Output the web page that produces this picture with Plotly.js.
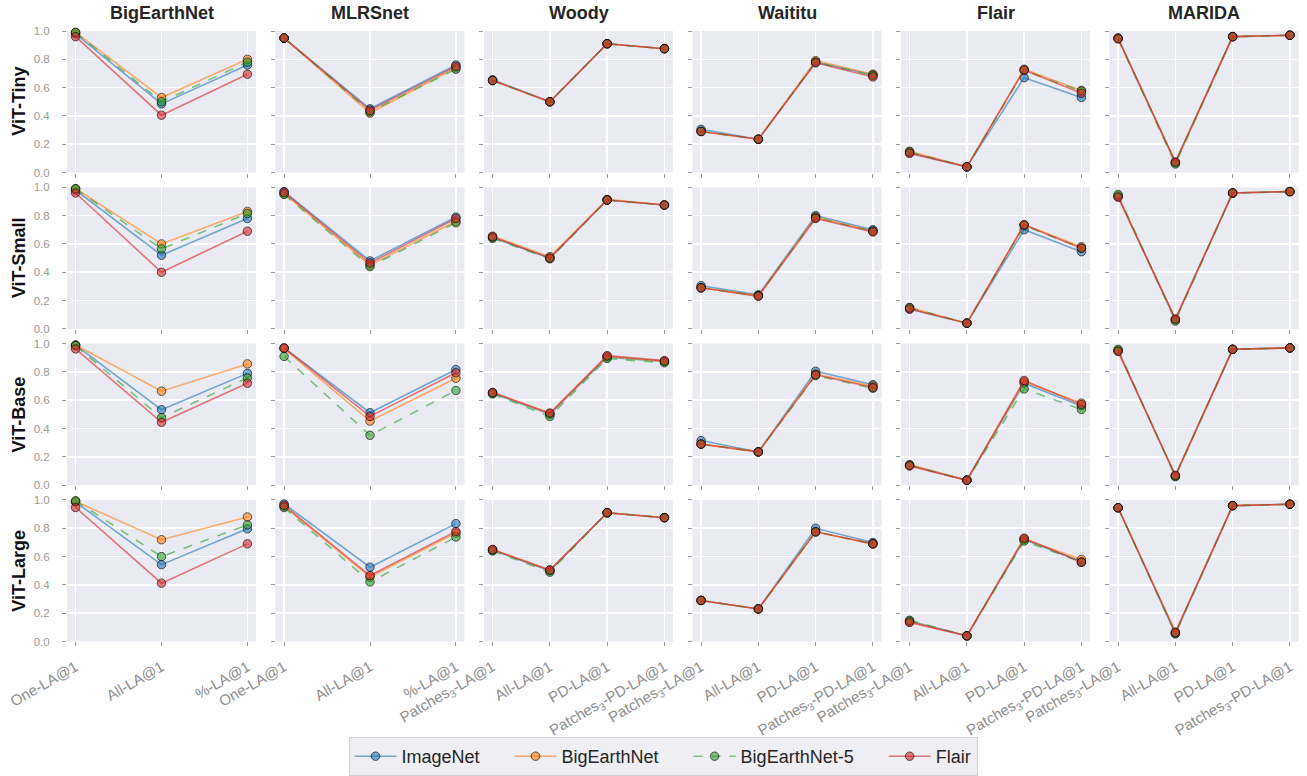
<!DOCTYPE html>
<html><head><meta charset="utf-8">
<script src="https://cdn.plot.ly/plotly-3.0.1.min.js"></script>
<style>html,body{margin:0;padding:0;background:#fff}#chart{width:1307px;height:776px}</style>
</head><body><div id="chart"></div>
<script>
// ---------- data ----------
const datasets = ['BigEarthNet','MLRSnet','Woody','Waititu','Flair','MARIDA'];
const models = ['ViT-Tiny','ViT-Small','ViT-Base','ViT-Large'];
const seriesNames = ['ImageNet','BigEarthNet','BigEarthNet-5','Flair'];
const labels3 = ['One-LA@1','All-LA@1','%-LA@1'];
const labels4 = ['Patches<sub>3</sub>-LA@1','All-LA@1','PD-LA@1','Patches<sub>3</sub>-PD-LA@1'];

// each array: one list per dataset (BigEarthNet, MLRSnet, Woody, Waititu, Flair, MARIDA)
const tiny_imagenet    = [[0.98,0.485,0.76],[0.95,0.45,0.76],[0.655,0.50,0.91,0.875],[0.305,0.235,0.78,0.69],[0.14,0.04,0.67,0.53],[0.95,0.07,0.96,0.97]];
const tiny_bigearthnet = [[0.99,0.53,0.80],[0.95,0.42,0.74],[0.65,0.50,0.91,0.875],[0.29,0.235,0.79,0.695],[0.15,0.04,0.73,0.58],[0.95,0.07,0.96,0.97]];
const tiny_ben5        = [[0.99,0.50,0.78],[0.95,0.43,0.73],[0.65,0.50,0.91,0.875],[0.29,0.235,0.78,0.685],[0.145,0.04,0.72,0.575],[0.945,0.06,0.96,0.97]];
const tiny_flair       = [[0.96,0.405,0.695],[0.95,0.44,0.75],[0.65,0.50,0.91,0.875],[0.29,0.235,0.775,0.675],[0.135,0.04,0.725,0.56],[0.945,0.075,0.96,0.97]];

const small_imagenet    = [[0.98,0.52,0.78],[0.97,0.48,0.79],[0.645,0.50,0.91,0.875],[0.305,0.24,0.80,0.70],[0.14,0.04,0.70,0.545],[0.935,0.065,0.96,0.97]];
const small_bigearthnet = [[0.99,0.60,0.83],[0.955,0.45,0.76],[0.655,0.51,0.915,0.875],[0.29,0.235,0.79,0.69],[0.15,0.04,0.735,0.58],[0.94,0.065,0.96,0.97]];
const small_ben5        = [[0.99,0.565,0.815],[0.95,0.44,0.75],[0.64,0.495,0.91,0.875],[0.29,0.235,0.785,0.69],[0.15,0.04,0.73,0.57],[0.95,0.055,0.96,0.97]];
const small_flair       = [[0.96,0.40,0.69],[0.965,0.465,0.78],[0.65,0.50,0.91,0.875],[0.29,0.23,0.78,0.685],[0.14,0.04,0.735,0.57],[0.93,0.07,0.96,0.97]];

const base_imagenet    = [[0.99,0.533,0.79],[0.97,0.512,0.817],[0.65,0.50,0.905,0.875],[0.315,0.235,0.805,0.71],[0.14,0.035,0.72,0.56],[0.95,0.065,0.96,0.97]];
const base_bigearthnet = [[0.99,0.664,0.857],[0.965,0.453,0.756],[0.655,0.505,0.91,0.875],[0.29,0.235,0.785,0.70],[0.145,0.035,0.73,0.58],[0.95,0.065,0.96,0.97]];
const base_ben5        = [[0.985,0.477,0.758],[0.91,0.352,0.669],[0.645,0.485,0.895,0.865],[0.29,0.235,0.775,0.685],[0.14,0.035,0.68,0.535],[0.96,0.06,0.96,0.97]];
const base_flair       = [[0.963,0.444,0.72],[0.97,0.486,0.794],[0.655,0.51,0.915,0.88],[0.29,0.235,0.78,0.69],[0.135,0.035,0.74,0.57],[0.945,0.07,0.96,0.97]];

const large_imagenet    = [[0.985,0.543,0.796],[0.972,0.525,0.833],[0.645,0.50,0.91,0.875],[0.29,0.23,0.80,0.70],[0.145,0.04,0.72,0.565],[0.945,0.055,0.96,0.97]];
const large_bigearthnet = [[0.99,0.719,0.88],[0.955,0.455,0.766],[0.65,0.505,0.91,0.875],[0.29,0.23,0.775,0.69],[0.14,0.04,0.725,0.58],[0.945,0.065,0.96,0.97]];
const large_ben5        = [[0.995,0.60,0.824],[0.947,0.421,0.738],[0.64,0.49,0.91,0.875],[0.29,0.23,0.775,0.69],[0.15,0.04,0.71,0.56],[0.945,0.055,0.96,0.97]];
const large_flair       = [[0.947,0.412,0.69],[0.962,0.466,0.777],[0.65,0.505,0.91,0.875],[0.29,0.23,0.775,0.69],[0.135,0.04,0.73,0.56],[0.945,0.065,0.96,0.97]];

const tableByModel = [
  [tiny_imagenet, tiny_bigearthnet, tiny_ben5, tiny_flair],
  [small_imagenet, small_bigearthnet, small_ben5, small_flair],
  [base_imagenet, base_bigearthnet, base_ben5, base_flair],
  [large_imagenet, large_bigearthnet, large_ben5, large_flair]
];
const labelsByDataset = [labels3, labels3, labels4, labels4, labels4, labels4];

// ---------- styles / layout ----------
const W = 1307, H = 776;
const colX0 = 67, colW = 189, colStep = 208.5;
const rowY0 = 31, rowH = 141.5, rowStep = 156.33;
const lineColors = ['rgba(31,119,180,0.6)','rgba(255,127,14,0.6)','rgba(44,160,44,0.6)','rgba(214,39,40,0.6)'];
const dashes = ['solid','solid','dash','solid'];
const FONT = 'Liberation Sans, Arial, sans-serif';
const PAD = '\u00a0\u00a0\u00a0\u00a0\u00a0';

const traces = [];
const layout = {
  width: W, height: H,
  margin: {l:0, r:0, t:0, b:0},
  paper_bgcolor: '#ffffff',
  plot_bgcolor: '#eaeaf2',
  font: {family: FONT},
  showlegend: true,
  legend: {
    orientation: 'h', x: 663/W, xanchor: 'center', y: (H-737)/H, yanchor: 'top',
    bgcolor: '#eeeef3', bordercolor: '#cfcfd6', borderwidth: 1,
    font: {size: 18, color: '#262626', family: FONT}, itemwidth: 42,
    traceorder: 'normal'
  },
  annotations: []
};

for (let r = 0; r < models.length; r++) {
  for (let c = 0; c < datasets.length; c++) {
    const i = r*datasets.length + c + 1;
    const sfx = i === 1 ? '' : String(i);
    const cats = labelsByDataset[c];
    const n = cats.length;
    const x0 = colX0 + c*colStep, x1 = x0 + colW;
    const yt = rowY0 + r*rowStep, yb = yt + rowH;
    layout['xaxis'+sfx] = {
      domain: [x0/W, x1/W], anchor: 'y'+sfx, type: 'category',
      categoryorder: 'array', categoryarray: cats,
      range: [-0.05*(n-1), (n-1)*1.05],
      showgrid: true, gridcolor: '#ffffff', gridwidth: 1.6,
      zeroline: false, showline: false,
      ticks: 'outside', ticklen: 4, tickcolor: '#9a9a9a', tickwidth: 1,
      showticklabels: r === models.length-1, tickangle: -30,
      tickfont: {size: 15, color: '#8e8e8e', family: FONT},
      ticklabelstandoff: 6, fixedrange: true
    };
    layout['yaxis'+sfx] = {
      domain: [(H-yb)/H, (H-yt)/H], anchor: 'x'+sfx,
      range: [0, 1],
      tickvals: [0,0.2,0.4,0.6,0.8,1.0], ticktext: ['0.0','0.2','0.4','0.6','0.8','1.0'],
      showgrid: true, gridcolor: '#ffffff', gridwidth: 1.6,
      zeroline: false, showline: false,
      ticks: 'outside', ticklen: 4, tickcolor: '#9a9a9a', tickwidth: 1,
      showticklabels: c === 0,
      tickfont: {size: 11.5, color: '#9a9a9a', family: FONT},
      ticklabelstandoff: 10, fixedrange: true
    };
    for (let s = 0; s < seriesNames.length; s++) {
      traces.push({
        type: 'scatter', mode: 'lines+markers',
        x: cats, y: tableByModel[r][s][c],
        xaxis: 'x'+sfx, yaxis: 'y'+sfx,
        name: seriesNames[s] + (s < seriesNames.length-1 ? PAD : ''),
        legendgroup: seriesNames[s],
        showlegend: i === 1,
        cliponaxis: false,
        line: {color: lineColors[s], width: 1.6, dash: dashes[s]},
        marker: {size: 8.5, color: lineColors[s], line: {color: 'rgba(0,0,0,0.6)', width: 1}},
        hoverinfo: 'skip'
      });
    }
    if (r === 0) {
      layout.annotations.push({
        text: '<b>' + datasets[c] + '</b>', xref: 'paper', yref: 'paper',
        x: (x0 + colW/2)/W, y: (H-13)/H, xanchor: 'center', yanchor: 'middle',
        showarrow: false, font: {size: 18, color: '#262626', family: FONT}
      });
    }
  }
  const ytop = rowY0 + r*rowStep;
  layout.annotations.push({
    text: '<b>' + models[r] + '</b>', xref: 'paper', yref: 'paper',
    x: 19/W, y: (H-(ytop + rowH/2))/H, xanchor: 'center', yanchor: 'middle',
    textangle: -90, showarrow: false, font: {size: 18, color: '#111111', family: FONT}
  });
}

Plotly.newPlot('chart', traces, layout, {displayModeBar: false, staticPlot: true});
</script>
</body></html>
